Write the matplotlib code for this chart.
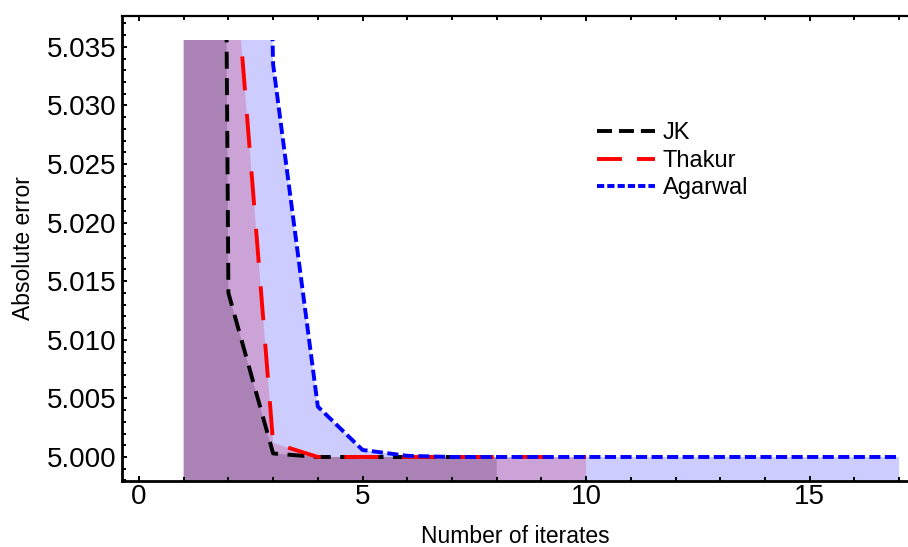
import matplotlib
matplotlib.use("Agg")
import matplotlib.pyplot as plt
from matplotlib.patches import Rectangle
from matplotlib.lines import Line2D
from matplotlib.ticker import MultipleLocator, FormatStrFormatter

plt.rcParams['font.family'] = ['Liberation Sans', 'DejaVu Sans']
plt.rcParams['lines.scale_dashes'] = False

# iterates and absolute errors (first points run far off the top of the plot range)
x_jk = [1, 2, 3, 4, 5, 6, 7, 8]
jk = [5.55, 5.0140, 5.0003, 5.0000, 5.0000, 5.0000, 5.0000, 5.0000]

x_thakur = [1, 2, 3, 4, 5, 6, 7, 8, 9, 10]
thakur = [5.5, 5.049, 5.0012, 5.0000, 5.0000, 5.0000, 5.0000, 5.0000, 5.0000, 5.0000]

x_agarwal = list(range(1, 18))
agarwal = [5.4, 5.2, 5.0335, 5.0043, 5.0006, 5.0001] + [5.0000] * 11

names = ['JK', 'Thakur', 'Agarwal']
colors = ['black', 'red', 'blue']
y_bottom = 4.99795
y_clip = 5.03558

fig = plt.figure(figsize=(9.08, 5.47), dpi=100)
ax = fig.add_axes([122 / 908, 66 / 547, 786 / 908, 465 / 547])
ax.set_xlim(-0.38, 17.2)
ax.set_ylim(y_bottom, 5.03763)

clip = Rectangle((-5, 4.9), 40, y_clip - 4.9, transform=ax.transData)

series = [(x_jk, jk), (x_thakur, thakur), (x_agarwal, agarwal)]
for (xs, ys), c in zip(series, colors):
    f = ax.fill_between(xs, ys, y_bottom, color=c, alpha=0.2, lw=0)
    f.set_clip_path(clip)

dash_plot = [(12.2, 6.8), (24.5, 17.0), (8.0, 3.2)]
for (xs, ys), c, d in zip(series, colors, dash_plot):
    ln, = ax.plot(xs, ys, color=c, lw=2.8, dashes=d, solid_capstyle='butt',
                  dash_capstyle='butt')
    ln.set_clip_path(clip)

# legend with its own (shorter) dash patterns
dash_leg = [(10.8, 5.0), (18.0, 10.8), (5.2, 2.2)]
handles = [Line2D([], [], color=c, lw=2.8, dashes=d, dash_capstyle='butt')
           for c, d in zip(colors, dash_leg)]
ax.legend(handles, names, loc='upper left', bbox_to_anchor=(0.604, 0.771),
          frameon=False, fontsize=17, borderpad=0, borderaxespad=0,
          labelspacing=0.23, handlelength=2.46, handletextpad=0.34)

ax.xaxis.set_major_locator(MultipleLocator(5))
ax.xaxis.set_minor_locator(MultipleLocator(1))
ax.yaxis.set_major_locator(MultipleLocator(0.005))
ax.yaxis.set_minor_locator(MultipleLocator(0.001))
ax.yaxis.set_major_formatter(FormatStrFormatter('%.3f'))

ax.spines['right'].set_visible(False)
for s in ['left', 'bottom']:
    ax.spines[s].set_linewidth(2.0)
ax.spines['top'].set_linewidth(1.6)

ax.tick_params(which='both', direction='in', top=True, right=False,
               labelsize=20, width=1.4)
ax.tick_params(which='major', length=3.6)
ax.tick_params(which='minor', length=2.6)
ax.tick_params(axis='x', pad=2)
ax.tick_params(axis='y', pad=4)

ax.set_xlabel('Number of iterates', fontsize=16.5)
ax.set_ylabel('Absolute error', fontsize=16.5)
ax.xaxis.set_label_coords(0.5, -0.094)
ax.yaxis.set_label_coords(-0.111, 0.5)

fig.savefig('out.png', dpi=100)
